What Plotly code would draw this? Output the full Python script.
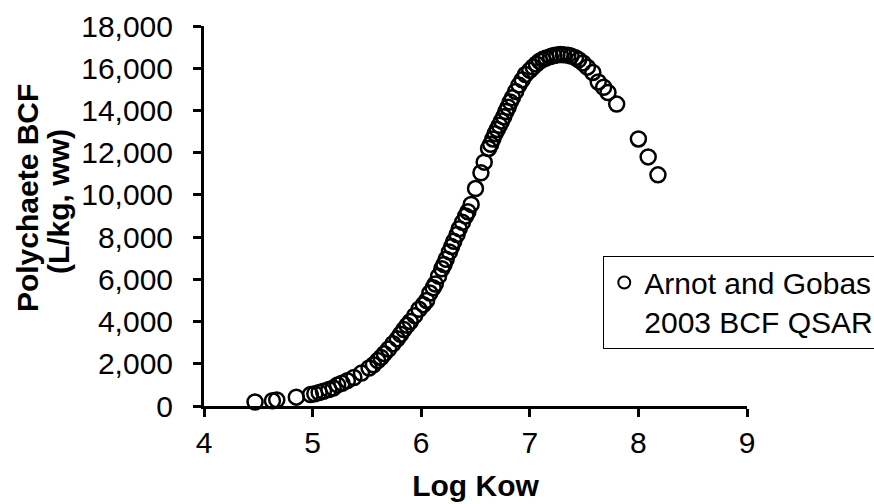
import plotly.graph_objects as go

# Log Kow values
log_kow = [4.47, 4.63, 4.67, 4.85, 4.98, 5.02, 5.06, 5.10, 5.15, 5.19,
           5.23, 5.27, 5.32, 5.38, 5.45, 5.52, 5.56, 5.60, 5.63, 5.66,
           5.70, 5.74, 5.78, 5.81, 5.84, 5.87, 5.90, 5.94, 5.98, 6.02,
           6.05, 6.08, 6.11, 6.13, 6.16, 6.19, 6.21, 6.23, 6.26, 6.28,
           6.30, 6.33, 6.35, 6.38, 6.41, 6.43, 6.46, 6.50, 6.55, 6.58,
           6.62, 6.64, 6.66, 6.68, 6.70, 6.72, 6.74, 6.76, 6.78, 6.80,
           6.82, 6.84, 6.87, 6.90, 6.93, 6.96, 7.00, 7.03, 7.06, 7.09,
           7.12, 7.15, 7.19, 7.22, 7.25, 7.28, 7.31, 7.35, 7.38, 7.42,
           7.45, 7.49, 7.53, 7.58, 7.63, 7.68, 7.72, 7.80, 8.00, 8.09,
           8.18]

# Polychaete BCF (L/kg, ww) values
bcf = [190, 250, 290, 420, 540, 580, 640, 700, 780, 850,
       1000, 1080, 1200, 1350, 1560, 1800, 1950, 2150, 2300, 2480,
       2700, 2950, 3180, 3400, 3620, 3820, 4000, 4280, 4580, 4800,
       5000, 5350, 5600, 5780, 6150, 6500, 6700, 6950, 7300, 7550,
       7800, 8120, 8400, 8700, 9000, 9200, 9550, 10300, 11050, 11550,
       12200, 12400, 12650, 12900, 13100, 13300, 13500, 13700, 13950, 14150,
       14400, 14600, 14900, 15200, 15450, 15700, 15900, 16060, 16200, 16330,
       16420, 16480, 16550, 16600, 16630, 16650, 16640, 16620, 16580, 16500,
       16400, 16250, 16050, 15800, 15350, 15100, 14850, 14300, 12650, 11800,
       10950]

series_name = "Arnot and Gobas<br>2003 BCF QSAR"
x_title = "Log Kow"
y_title_lines = ["Polychaete BCF", "(L/kg, ww)"]
x_ticks = [4, 5, 6, 7, 8, 9]
y_ticks = [0, 2000, 4000, 6000, 8000, 10000, 12000, 14000, 16000, 18000]

FONT = "Liberation Sans, Arial, sans-serif"
FS = 30

fig = go.Figure()
fig.add_trace(go.Scatter(
    x=log_kow, y=bcf, mode="markers", name=series_name,
    marker=dict(symbol="circle-open", size=15, color="black",
                line=dict(width=2.5, color="black")),
    cliponaxis=False,
))

fig.update_layout(
    width=874, height=504,
    margin=dict(l=204, r=127, t=26, b=98, autoexpand=False),
    paper_bgcolor="white", plot_bgcolor="white",
    font=dict(family=FONT, size=FS, color="black"),
    showlegend=True,
    legend=dict(
        x=0.7353, y=0.396, xanchor="left", yanchor="top",
        bgcolor="white", bordercolor="black", borderwidth=1,
        font=dict(family=FONT, size=FS, color="black"),
        valign="top", itemsizing="constant",
    ),
    xaxis=dict(
        range=[4, 9], tickvals=x_ticks, ticktext=[str(v) for v in x_ticks],
        showgrid=False, zeroline=False,
        showline=True, linecolor="black", linewidth=3,
        ticks="outside", ticklen=8, tickwidth=3, tickcolor="black",
        tickfont=dict(family=FONT, size=FS, color="black"),
        title=dict(text="<b>" + x_title + "</b>", standoff=17,
                   font=dict(family=FONT, size=FS, color="black")),
    ),
    yaxis=dict(
        range=[0, 18000], tickvals=y_ticks, tickformat=",d",
        showgrid=False, zeroline=False,
        showline=True, linecolor="black", linewidth=3,
        ticks="outside", ticklen=8, tickwidth=3, tickcolor="black",
        tickfont=dict(family=FONT, size=FS, color="black"),
        ticklabelstandoff=14,
    ),
    annotations=[
        dict(text="<b>" + y_title_lines[0] + "</b>", textangle=-90,
             xref="paper", yref="paper", x=-0.3250, y=0.546,
             xanchor="center", yanchor="middle", showarrow=False,
             font=dict(family=FONT, size=FS, color="black")),
        dict(text="<b>" + y_title_lines[1] + "</b>", textangle=-90,
             xref="paper", yref="paper", x=-0.2680, y=0.538,
             xanchor="center", yanchor="middle", showarrow=False,
             font=dict(family=FONT, size=FS, color="black")),
    ],
)

fig.write_html("out.html")
